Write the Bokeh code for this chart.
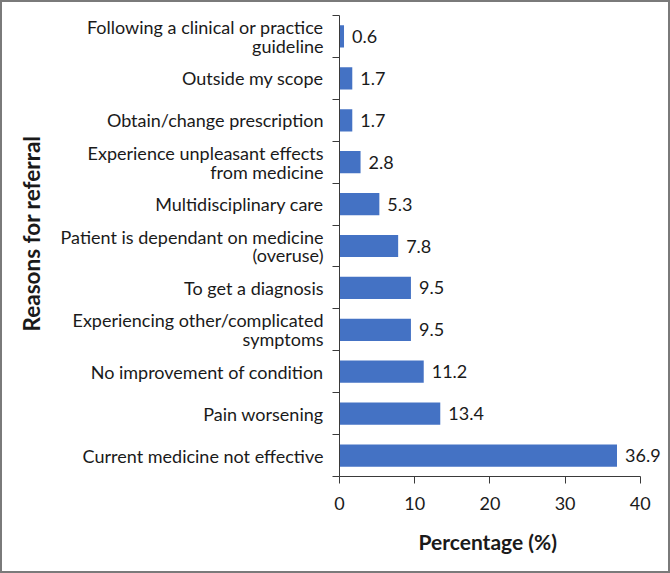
from bokeh.plotting import figure
from bokeh.models import Range1d, FixedTicker, ColumnDataSource, LabelSet, Title
from bokeh.core.properties import value
from bokeh.embed import file_html
from bokeh.resources import INLINE

# Reasons for referral, bottom to top, with the share of respondents (%)
reasons = [
    "Current medicine not effective",
    "Pain worsening",
    "No improvement of condition",
    "Experiencing other/complicated\nsymptoms",
    "To get a diagnosis",
    "Patient is dependant on medicine\n(overuse)",
    "Multidisciplinary care",
    "Experience unpleasant effects\nfrom medicine",
    "Obtain/change prescription",
    "Outside my scope",
    "Following a clinical or practice\nguideline",
]
percentages = [36.9, 13.4, 11.2, 9.5, 9.5, 7.8, 5.3, 2.8, 1.7, 1.7, 0.6]
x_ticks = [0, 10, 20, 30, 40]

FONT = "Lato"
TEXT = "#1a1a1a"
AXIS = "#3a3a3a"
BAR = "#4472C4"

ypos = list(range(len(reasons)))
src = ColumnDataSource(dict(
    y=ypos,
    pct=percentages,
    lbl=[f"{v:.1f}" for v in percentages],
))

# the frame runs a little past 40 so the value labels stay visible;
# the x axis itself is bounded to 0-40
p = figure(
    width=670, height=573,
    x_range=Range1d(0, 44.28),
    y_range=Range1d(-0.5, len(reasons) - 0.5),
    output_backend="svg", toolbar_location=None,
    min_border_top=13, min_border_bottom=99, min_border_right=0, min_border_left=335,
)
p.styles = {"border": "2px solid #7a7a7a"}
p.outline_line_color = None
p.xgrid.grid_line_color = None
p.ygrid.grid_line_color = None
p.background_fill_color = "white"
p.border_fill_color = "white"

p.hbar(y="y", right="pct", left=0, height=0.53, source=src,
       fill_color=BAR, line_color=None)

labels = LabelSet(x="pct", y="y", text="lbl", source=src,
                  x_offset=8, text_baseline="middle", text_align="left",
                  text_font_size="18px", text_font=value(FONT), text_color=TEXT)
p.add_layout(labels)

# x axis
xa = p.xaxis[0]
xa.ticker = FixedTicker(ticks=x_ticks)
xa.bounds = (0, 40)
xa.axis_line_color = AXIS
xa.major_tick_line_color = AXIS
xa.major_tick_out = 7
xa.major_tick_in = 0
xa.minor_tick_line_color = None
xa.major_label_text_font = FONT
xa.major_label_text_font_size = "18px"
xa.major_label_text_color = TEXT
xa.major_label_standoff = 13

# y axis: labels at category centres, tick marks at category boundaries
ya = p.yaxis[0]
ya.ticker = FixedTicker(ticks=ypos, minor_ticks=[i - 0.5 for i in range(len(reasons) + 1)])
ya.major_label_overrides = {i: r for i, r in enumerate(reasons)}
ya.axis_line_color = AXIS
ya.major_tick_line_color = None
ya.major_tick_out = 0
ya.major_tick_in = 0
ya.minor_tick_line_color = AXIS
ya.minor_tick_out = 7
ya.minor_tick_in = 0
ya.major_label_text_font = FONT
ya.major_label_text_font_size = "18px"
ya.major_label_text_line_height = 0.85
ya.major_label_text_color = TEXT
ya.major_label_standoff = 9

# axis titles, centred on the 0-40 span rather than on the whole frame
x_title = Title(text="Percentage (%)", align="left", offset=79, standoff=28,
                text_font=FONT, text_font_size="21px", text_font_style="bold",
                text_color=TEXT)
p.add_layout(x_title, "below")

y_title = Title(text="Reasons for referral", align="left", offset=145, standoff=26,
                text_font=FONT, text_font_size="22.5px", text_font_style="bold",
                text_color=TEXT)
p.add_layout(y_title, "left")

open("out.html", "w").write(file_html(p, INLINE))
